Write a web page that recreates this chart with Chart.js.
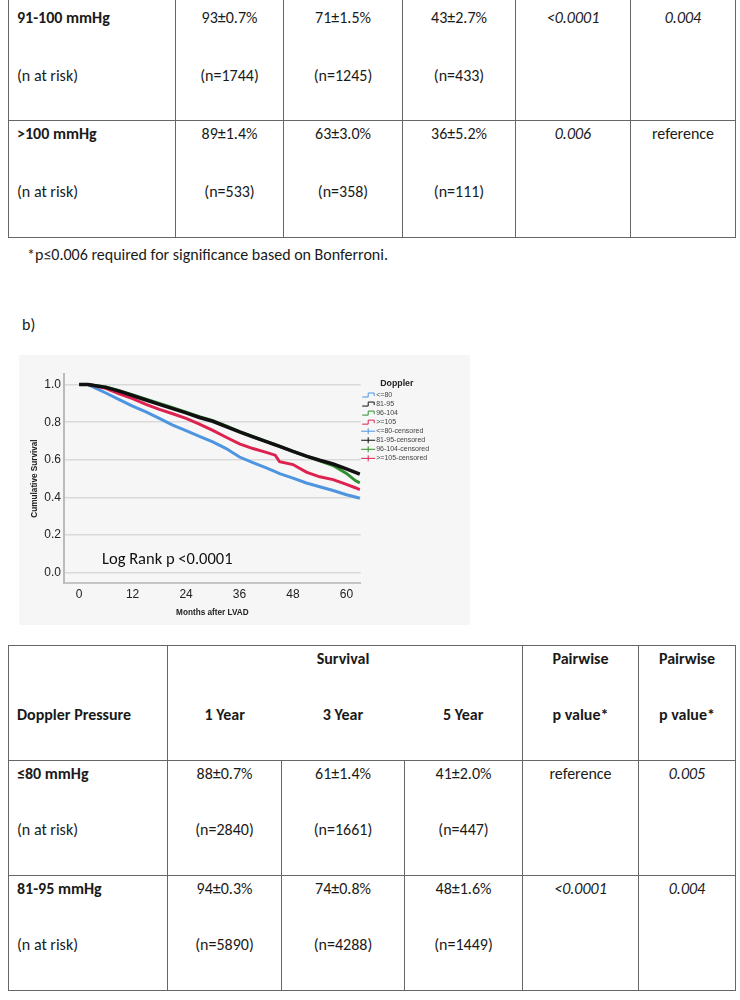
<!DOCTYPE html>
<html>
<head>
<meta charset="utf-8">
<script src="https://cdn.jsdelivr.net/npm/chart.js@4.4.1/dist/chart.umd.min.js"></script>
<style>
  html, body { margin: 0; padding: 0; background: #fff; }
  body {
    width: 740px; height: 1000px; position: relative; overflow: hidden;
    font-family: Carlito, 'Liberation Sans Narrow', 'Liberation Sans', sans-serif;
    font-size: 16px; color: #1a1a1a;
  }
  table { position: absolute; border-collapse: collapse; table-layout: fixed; }
  td { border: 1px solid #666; vertical-align: top; text-align: center; padding: 0 4px; line-height: 26px; }
  td.first { text-align: left; padding-left: 8px; }
  .l2 { margin-top: 30px; }
  #t1 .l2 { margin-top: 32px; }
  .it { font-style: italic; }
  .b { font-weight: bold; }
  #t1 tr:first-child td { border-top: none; padding-top: 5px; }
  td.s2 { border-right: hidden; }
  td.s3 { border-left: hidden; border-right: hidden; }
  td.s4 { border-left: hidden; }
  .note { position: absolute; line-height: 26px; white-space: nowrap; }
  #chartBox { position: absolute; left: 19px; top: 355px; width: 451px; height: 270px; background: #f6f6f6; }
  #logRank { position: absolute; left: 83px; top: 190px; line-height: 26px; font-size: 16.5px; color: #111; white-space: nowrap; }
</style>
</head>
<body>

<table id="t1" style="left:8px; top:0px; width:727px">
  <colgroup><col style="width:167px"><col style="width:108px"><col style="width:119px"><col style="width:113px"><col style="width:115px"><col style="width:105px"></colgroup>
  <tr style="height:120px">
    <td class="first"><div class="b">91-100 mmHg</div><div class="l2">(n at risk)</div></td>
    <td><div>93±0.7%</div><div class="l2">(n=1744)</div></td>
    <td><div>71±1.5%</div><div class="l2">(n=1245)</div></td>
    <td><div>43±2.7%</div><div class="l2">(n=433)</div></td>
    <td><div class="it">&lt;0.0001</div></td>
    <td><div class="it">0.004</div></td>
  </tr>
  <tr style="height:117px">
    <td class="first"><div class="b">&gt;100 mmHg</div><div class="l2">(n at risk)</div></td>
    <td><div>89±1.4%</div><div class="l2">(n=533)</div></td>
    <td><div>63±3.0%</div><div class="l2">(n=358)</div></td>
    <td><div>36±5.2%</div><div class="l2">(n=111)</div></td>
    <td><div class="it">0.006</div></td>
    <td><div>reference</div></td>
  </tr>
</table>

<div class="note" style="left:27px; top:242px">*p≤0.006 required for significance based on Bonferroni.</div>
<div class="note" style="left:22px; top:312px">b)</div>

<div id="chartBox">
  <canvas id="km"></canvas>
  <div id="logRank">Log Rank p &lt;0.0001</div>
</div>

<table id="t2" style="left:8px; top:645px; width:727px">
  <colgroup><col style="width:159px"><col style="width:114px"><col style="width:123px"><col style="width:118px"><col style="width:116px"><col style="width:97px"></colgroup>
  <tr style="height:115px">
    <td class="first"><div>&nbsp;</div><div class="l2 b">Doppler Pressure</div></td>
    <td class="s2"><div>&nbsp;</div><div class="l2 b">1 Year</div></td>
    <td class="s3"><div class="b">Survival</div><div class="l2 b">3 Year</div></td>
    <td class="s4"><div>&nbsp;</div><div class="l2 b">5 Year</div></td>
    <td><div class="b">Pairwise</div><div class="l2 b">p value*</div></td>
    <td><div class="b">Pairwise</div><div class="l2 b">p value*</div></td>
  </tr>
  <tr style="height:115px">
    <td class="first"><div class="b">≤80 mmHg</div><div class="l2">(n at risk)</div></td>
    <td><div>88±0.7%</div><div class="l2">(n=2840)</div></td>
    <td><div>61±1.4%</div><div class="l2">(n=1661)</div></td>
    <td><div>41±2.0%</div><div class="l2">(n=447)</div></td>
    <td><div>reference</div></td>
    <td><div class="it">0.005</div></td>
  </tr>
  <tr style="height:115px">
    <td class="first"><div class="b">81-95 mmHg</div><div class="l2">(n at risk)</div></td>
    <td><div>94±0.3%</div><div class="l2">(n=5890)</div></td>
    <td><div>74±0.8%</div><div class="l2">(n=4288)</div></td>
    <td><div>48±1.6%</div><div class="l2">(n=1449)</div></td>
    <td><div class="it">&lt;0.0001</div></td>
    <td><div class="it">0.004</div></td>
  </tr>
</table>

<script>
// Kaplan-Meier curves by Doppler pressure group

const months = [0, 2, 6, 9, 12, 15, 18, 21, 24, 27, 30, 33, 36, 39, 42, 44, 45, 48, 51, 54, 57, 60, 62, 63];
const survLe80    = [1, 1, 0.955, 0.92, 0.885, 0.855, 0.82, 0.785, 0.755, 0.725, 0.695, 0.66, 0.615, 0.585, 0.557, 0.537, 0.527, 0.503, 0.477, 0.457, 0.437, 0.415, 0.403, 0.396];
const surv81to95  = [1, 1, 0.985, 0.965, 0.942, 0.918, 0.895, 0.872, 0.85, 0.825, 0.805, 0.777, 0.748, 0.722, 0.697, 0.68, 0.672, 0.645, 0.62, 0.598, 0.578, 0.552, 0.533, 0.524];
const surv96to104 = [1, 1, 0.987, 0.968, 0.945, 0.922, 0.9, 0.877, 0.853, 0.83, 0.808, 0.78, 0.75, 0.724, 0.698, 0.682, 0.672, 0.645, 0.62, 0.595, 0.57, 0.528, 0.49, 0.478];
const survGe105   = [1, 1, 0.98, 0.95, 0.925, 0.895, 0.868, 0.845, 0.82, 0.79, 0.757, 0.72, 0.685, 0.66, 0.64, 0.625, 0.59, 0.575, 0.535, 0.51, 0.495, 0.47, 0.452, 0.442];

const groupLabels = ['<=80', '81-95', '96-104', '>=105'];
const censoredLabels = groupLabels.map(g => g + '-censored');
const xTicks = [0, 12, 24, 36, 48, 60];
const yTicks = [0, 0.2, 0.4, 0.6, 0.8, 1.0];

const lineColors = ['#4d95e0', '#111111', '#2f8f2f', '#de2250'];
const tickFont = { family: '"Liberation Sans", Arial, sans-serif', size: 12 };
const titleFont = { family: '"Liberation Sans", Arial, sans-serif', size: 8.2, weight: 'bold' };

function toPoints(vals) {
  return months.map((m, i) => ({ x: m, y: vals[i] }));
}

// SPSS-style legend on the right of the plot
const kmLegend = {
  id: 'kmLegend',
  afterDraw(chart) {
    const { ctx, chartArea } = chart;
    const x0 = chartArea.right + 0.5;
    ctx.save();
    ctx.textBaseline = 'middle';
    ctx.font = 'bold 8.8px "Liberation Sans", Arial, sans-serif';
    ctx.fillStyle = '#222';
    ctx.fillText('Doppler', x0 + 19, chartArea.top + 9.3);
    ctx.font = '7px "Liberation Sans", Arial, sans-serif';
    const entries = groupLabels.map((l, i) => ({ label: l, color: lineColors[i], cens: false }))
      .concat(censoredLabels.map((l, i) => ({ label: l, color: lineColors[i], cens: true })));
    entries.forEach((e, i) => {
      const y = chartArea.top + 21 + i * 9.05;
      ctx.strokeStyle = e.color;
      ctx.lineWidth = 1;
      ctx.beginPath();
      if (e.cens) {
        ctx.moveTo(x0, y); ctx.lineTo(x0 + 14, y);
        ctx.moveTo(x0 + 7, y - 3); ctx.lineTo(x0 + 7, y + 3);
      } else {
        ctx.moveTo(x0 + 1, y + 2); ctx.lineTo(x0 + 7, y + 2); ctx.lineTo(x0 + 7, y - 2);
        ctx.lineTo(x0 + 13, y - 2); ctx.lineTo(x0 + 13, y + 1);
      }
      ctx.stroke();
      ctx.fillStyle = '#444';
      ctx.fillText(e.label, x0 + 15, y);
    });
    ctx.restore();
  }
};

const series = [survLe80, surv81to95, surv96to104, survGe105];
const drawOrder = [3, 0, 1, 2];

new Chart(document.getElementById('km'), {
  type: 'line',
  data: {
    datasets: series.map((vals, i) => ({
      label: groupLabels[i],
      data: toPoints(vals),
      borderColor: lineColors[i],
      borderWidth: i === 1 ? 3.5 : 3,
      pointRadius: 0,
      tension: 0,
      order: drawOrder[i]
    }))
  },
  options: {
    responsive: true,
    maintainAspectRatio: false,
    animation: false,
    events: [],
    layout: { padding: { top: 19, right: 109.3, left: 0, bottom: 0 } },
    plugins: { legend: { display: false }, tooltip: { enabled: false } },
    scales: {
      x: {
        type: 'linear',
        min: -3.4,
        max: 63.2,
        afterBuildTicks: s => { s.ticks = xTicks.map(v => ({ value: v })); },
        afterFit: s => { s.height = 42; },
        grid: { display: false, drawTicks: false },
        border: { display: true, color: '#c4c4c4', width: 2 },
        ticks: { font: tickFont, color: '#222', padding: 4, maxRotation: 0 },
        title: { display: true, text: 'Months after LVAD', font: titleFont, color: '#222', padding: { top: 0, bottom: 7.6 } }
      },
      y: {
        min: -0.054,
        max: 1.056,
        afterBuildTicks: s => { s.ticks = yTicks.map(v => ({ value: v })); },
        afterFit: s => { s.width = 45; },
        grid: { color: '#d9d9d9', lineWidth: 1.5, drawTicks: false },
        border: { display: true, color: '#bbbbbb', width: 2 },
        ticks: { font: tickFont, color: '#222', padding: 3, callback: v => v.toFixed(1) },
        title: { display: true, text: 'Cumulative Survival', font: titleFont, color: '#222', padding: { top: 10.6, bottom: 0 } }
      }
    }
  },
  plugins: [kmLegend]
});
</script>
</body>
</html>
